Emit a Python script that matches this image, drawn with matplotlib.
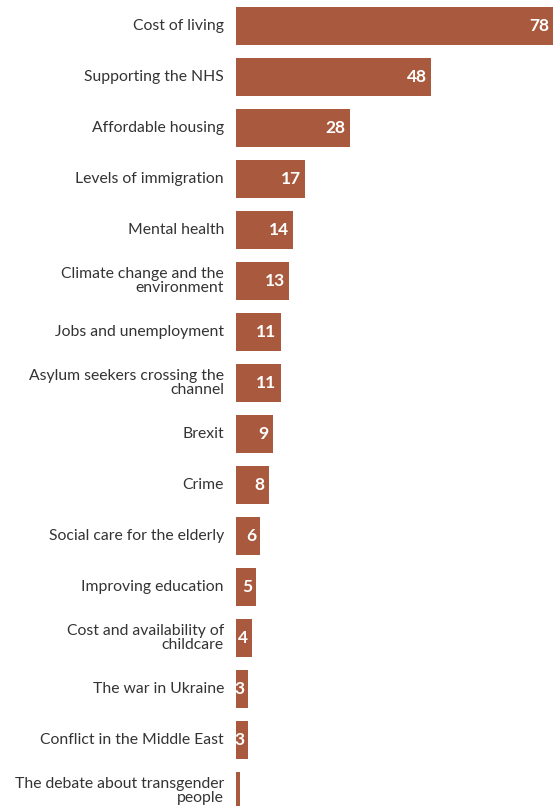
import matplotlib
matplotlib.use("Agg")
import matplotlib.pyplot as plt

issues = [
    "Cost of living",
    "Supporting the NHS",
    "Affordable housing",
    "Levels of immigration",
    "Mental health",
    "Climate change and the\nenvironment",
    "Jobs and unemployment",
    "Asylum seekers crossing the\nchannel",
    "Brexit",
    "Crime",
    "Social care for the elderly",
    "Improving education",
    "Cost and availability of\nchildcare",
    "The war in Ukraine",
    "Conflict in the Middle East",
    "The debate about transgender\npeople",
]
values = [78, 48, 28, 17, 14, 13, 11, 11, 9, 8, 6, 5, 4, 3, 3, 1]

bar_color = "#A95A3E"

fig = plt.figure(figsize=(5.53, 8.06), dpi=100)
ax = fig.add_axes([236 / 553, 0, 1 - 236 / 553, 1])

pos = list(range(len(values)))
ax.barh(pos, values, height=0.75, color=bar_color)
ax.set_xlim(0, 78)
ax.set_ylim((806 - 26) / 51, -26 / 51)

for y, v, name in zip(pos, values, issues):
    ax.text(-12 / 4.06, y, name, ha="right", va="center", fontsize=11.3,
            color="#333333", family="Lato", linespacing=0.92)
    ax.text(v - 1.0, y, str(v), ha="right", va="center", fontsize=12.5,
            color="white", fontweight="bold", family="Lato")

ax.axis("off")
fig.savefig("out.png", dpi=100)
